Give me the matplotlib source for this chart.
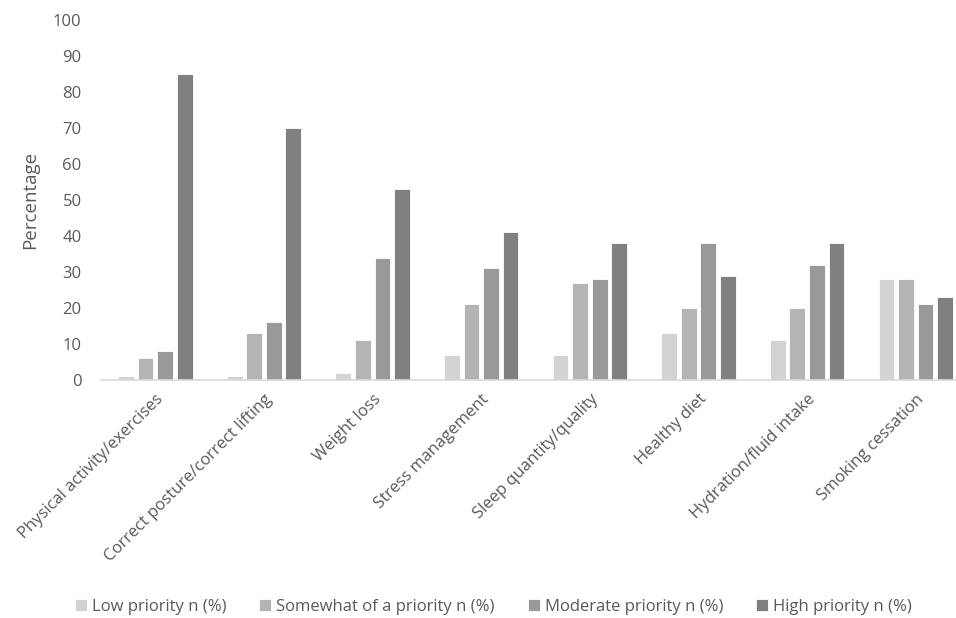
import numpy as np
import matplotlib
matplotlib.use("Agg")
import matplotlib.pyplot as plt

plt.rcParams['font.family'] = ['Open Sans', 'DejaVu Sans']

categories = ['Physical activity/exercises', 'Correct posture/correct lifting', 'Weight loss',
              'Stress management', 'Sleep quantity/quality', 'Healthy diet',
              'Hydration/fluid intake', 'Smoking cessation']
series = ['Low priority n (%)', 'Somewhat of a priority n (%)',
          'Moderate priority n (%)', 'High priority n (%)']
low = [1, 1, 2, 7, 7, 13, 11, 28]
somewhat = [6, 13, 11, 21, 27, 20, 20, 28]
moderate = [8, 16, 34, 31, 28, 38, 32, 21]
high = [85, 70, 53, 41, 38, 29, 38, 23]
colors = ['#d3d3d3', '#b4b4b4', '#999999', '#808080']

fig = plt.figure(figsize=(9.56, 6.18), dpi=100)
ax = fig.add_axes([0.1057, 0.385, 0.909, 0.5825])

x = np.arange(len(categories))
w = 0.18
for i, (vals, name) in enumerate(zip([low, somewhat, moderate, high], series)):
    ax.bar(x + (i - 1.5) * w, vals, width=0.145, color=colors[i], label=name,
           edgecolor='white', linewidth=0.6)

ax.set_xlim(-0.5, len(categories) - 0.5)
ax.set_ylim(0, 100)
ax.set_yticks(range(0, 101, 10))
ax.set_xticks(x)
ax.set_xticklabels(categories, rotation=45, ha='right', rotation_mode='anchor',
                   fontsize=12, color='#595959')
ax.tick_params(axis='y', labelsize=12, labelcolor='#595959', length=0, pad=14)
ax.tick_params(axis='x', length=0, pad=8)
ax.set_ylabel('Percentage', fontsize=13.5, color='#595959', labelpad=10)

for s in ['top', 'right', 'left']:
    ax.spines[s].set_visible(False)
ax.spines['bottom'].set_color('#d9d9d9')
ax.spines['bottom'].set_linewidth(1.2)

fig.legend(loc='center', bbox_to_anchor=(0.516, 0.018), ncol=4, frameon=False,
           fontsize=12, labelcolor='#595959', handlelength=0.7, handleheight=0.7,
           handletextpad=0.3, columnspacing=2.0)

fig.savefig('out.png', dpi=100)
